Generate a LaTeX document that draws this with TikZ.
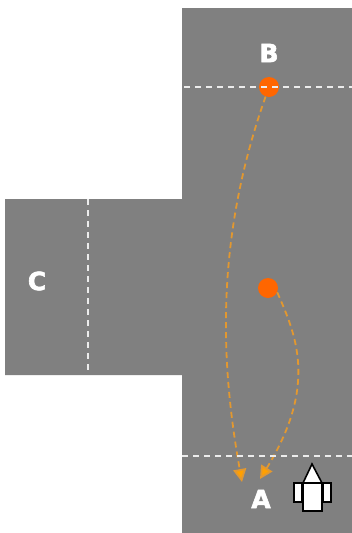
\documentclass[tikz,border=0pt]{standalone}
\usepackage{fontspec}
\newfontfamily\signfont[FakeBold=2.5]{DejaVu Sans Bold}
\usepackage{tikz}
\usetikzlibrary{arrows.meta, positioning}
\definecolor{roadgray}{RGB}{128,128,128}
\definecolor{pathorange}{RGB}{226,152,48}
\definecolor{tiporange}{RGB}{255,160,0}
\definecolor{dotorange}{RGB}{255,102,0}

\begin{document}
\begin{tikzpicture}[x=1pt, y=-1pt, >={Triangle[length=13pt, width=13pt, fill=tiporange]}]
    \tikzset{stopline/.style={draw=white!85!gray, line width=2pt, dash pattern=on 6pt off 5pt},
        waypoint/.style={circle, fill=dotorange, minimum size=20pt, inner sep=0pt},
        letter/.style={text=white, font=\signfont\fontsize{25}{25}\selectfont, inner sep=0pt},
        route/.style={draw=pathorange, line width=1.8pt, dash pattern=on 6pt off 4pt, ->, tiporange},
        carpart/.style={draw=black, fill=white, line width=1.6pt}
    }
    \useasboundingbox (0, 0) rectangle (352, 533);

    \fill [roadgray] (182, 8) -- (352, 8) -- (352, 533) -- (182, 533) -- (182, 375)
        -- (5, 375) -- (5, 199) -- (182, 199) -- cycle;

    \node (A-Label) [letter] at (261, 499) {A};
    \node (B-Label) [letter] at (269, 53) {B};
    \node (C-Label) [letter] at (37, 281) {C};

    \node (Dot-B) [waypoint] at (269, 87) {};
    \node (Dot-Mid) [waypoint] at (268, 288) {};
    \coordinate (End-Left) at (242, 482);
    \coordinate (End-Right) at (260, 479);

    \draw [route, draw=pathorange] (Dot-B) .. controls (213, 245) and (222, 370) .. (End-Left);
    \draw [route, draw=pathorange] (Dot-Mid.-25) .. controls (296, 335) and (318, 385) .. (End-Right);

    \coordinate (B-Left) at (184, 87);
    \coordinate (B-Right) at (352, 87);
    \coordinate (A-Left) at (182, 456);
    \coordinate (A-Right) at (352, 456);
    \coordinate (C-Top) at (88, 199);
    \coordinate (C-Bottom) at (88, 375);
    \draw [stopline] (B-Left) -- (B-Right);
    \draw [stopline] (A-Left) -- (A-Right);
    \draw [stopline] (C-Top) -- (C-Bottom);

    \draw [carpart] (294, 483) rectangle (302, 502);
    \draw [carpart] (323, 483) rectangle (331, 502);
    \draw [carpart] (303, 483) rectangle (322, 511);
    \draw [carpart] (303, 483) -- (312, 464) -- (322, 483) -- cycle;
\end{tikzpicture}
\end{document}
